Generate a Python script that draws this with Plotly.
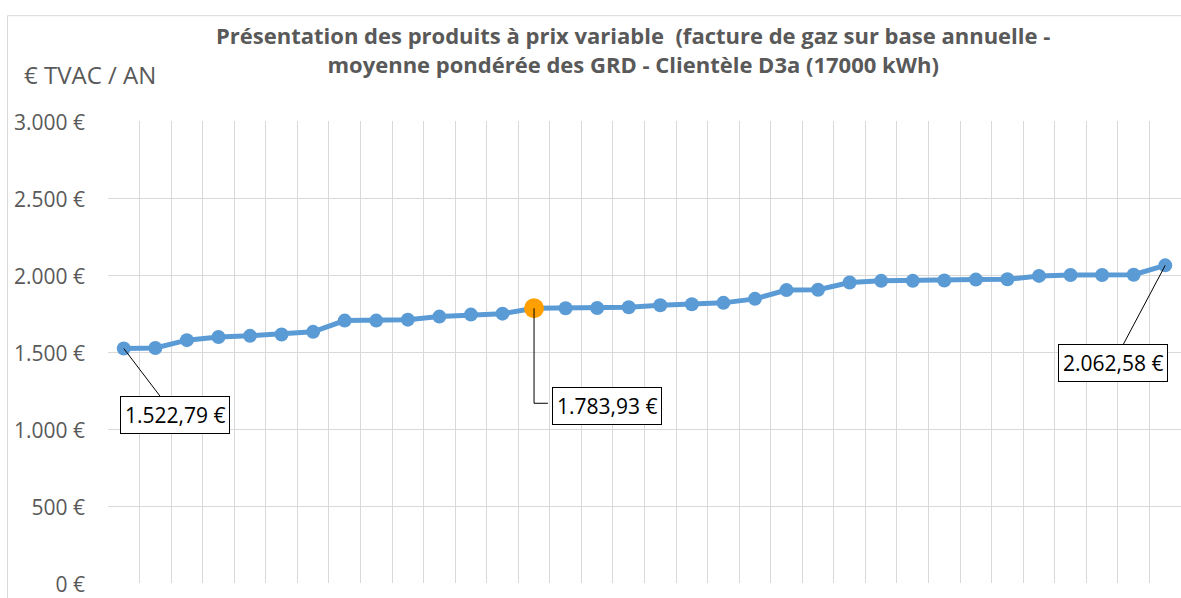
import plotly.graph_objects as go

# ---- data ----
products = list(range(1, 35))
prices = [1522.79, 1526, 1577, 1597, 1605, 1614, 1631, 1704, 1704, 1710,
          1730, 1743, 1749, 1783.93, 1784, 1786, 1791, 1804, 1810, 1819,
          1845, 1902, 1904, 1951, 1962, 1962, 1964, 1970, 1972, 1994,
          2000, 2000, 2002, 2062.58]
ytick_vals = [0, 500, 1000, 1500, 2000, 2500, 3000]
ytick_text = ["0 €", "500 €", "1.000 €", "1.500 €", "2.000 €", "2.500 €", "3.000 €"]
median_idx = 13
title_l1 = "Présentation des produits à prix variable  (facture de gaz sur base annuelle -"
title_l2 = "moyenne pondérée des GRD - Clientèle D3a (17000 kWh)"
y_title = "€ TVAC / AN"


def fmt(v):
    s = f"{v:,.2f}".replace(",", " ").replace(".", ",").replace(" ", ".")
    return s + " €"


BLUE = "#5b9bd5"
ORANGE = "#ffa000"
GREY = "#595959"
GRID = "#d9d9d9"
FONT = "Open Sans"

fig = go.Figure()
fig.add_trace(go.Scatter(
    x=products, y=prices, mode="lines+markers",
    line=dict(color=BLUE, width=5),
    marker=dict(color=BLUE, size=14),
    hoverinfo="skip", showlegend=False,
))
fig.add_trace(go.Scatter(
    x=[products[median_idx]], y=[prices[median_idx]], mode="markers",
    marker=dict(color=ORANGE, size=20),
    hoverinfo="skip", showlegend=False,
))

ann_font = dict(family=FONT, size=21, color="black")
box = dict(bgcolor="white", bordercolor="black", borderwidth=1, borderpad=4)

annotations = [
    dict(x=products[0], y=prices[0], xref="x", yref="y", text=fmt(prices[0]),
         showarrow=True, arrowhead=0, arrowwidth=1, arrowcolor="black",
         ax=51, ay=67, font=ann_font, **box),
    dict(x=products[-1], y=prices[-1], xref="x", yref="y", text=fmt(prices[-1]),
         showarrow=True, arrowhead=0, arrowwidth=1, arrowcolor="black",
         ax=-52, ay=98, font=ann_font, **box),
    dict(x=products[median_idx], y=prices[median_idx], xref="x", yref="y",
         text=fmt(prices[median_idx]), showarrow=False,
         xshift=73, yshift=-98, font=ann_font, **box),
    dict(x=0.4893, y=1.1557, xref="paper", yref="paper",
         text="<b>" + title_l1 + "<br>" + title_l2 + "</b>",
         showarrow=False, xanchor="center", yanchor="middle", align="center",
         font=dict(family=FONT, size=22, color=GREY)),
    dict(x=-0.0801, y=1.1002, xref="paper", yref="paper", text=y_title,
         showarrow=False, xanchor="left", yanchor="middle",
         font=dict(family=FONT, size=24, color=GREY)),
]

# elbow leader line for the median label
mx = products[median_idx]
my = prices[median_idx]
elbow_y = 1167
shapes = [
    dict(type="path", xref="x", yref="y",
         path=f"M {mx},{my} L {mx},{elbow_y} L {mx + 0.44},{elbow_y}",
         line=dict(color="black", width=1)),
    dict(type="rect", xref="paper", yref="paper", x0=-0.0937, x1=1.2, y0=-0.2, y1=1.228,
         line=dict(color=GRID, width=1), layer="below"),
]

fig.update_layout(
    width=1181, height=598,
    margin=dict(l=108, r=0, t=121, b=9),
    paper_bgcolor="white", plot_bgcolor="white",
    annotations=annotations, shapes=shapes,
    xaxis=dict(range=[0.5, 34.5], tick0=0.5, dtick=1, showticklabels=False,
               showgrid=True, gridcolor=GRID, gridwidth=1, zeroline=False,
               showline=False, ticks=""),
    yaxis=dict(range=[0, 3000], tickvals=ytick_vals, ticktext=ytick_text,
               showgrid=True, gridcolor=GRID, gridwidth=1, zeroline=False,
               showline=False, ticks="", ticklabelstandoff=22,
               ticklabeloverflow="allow", ticklabelshift=2,
               tickfont=dict(family=FONT, size=21, color=GREY)),
    font=dict(family=FONT),
)

fig.write_html(
    "out.html",
    config={"displayModeBar": False},
    post_script="document.body.style.margin='0';document.body.style.overflow='hidden';",
)
